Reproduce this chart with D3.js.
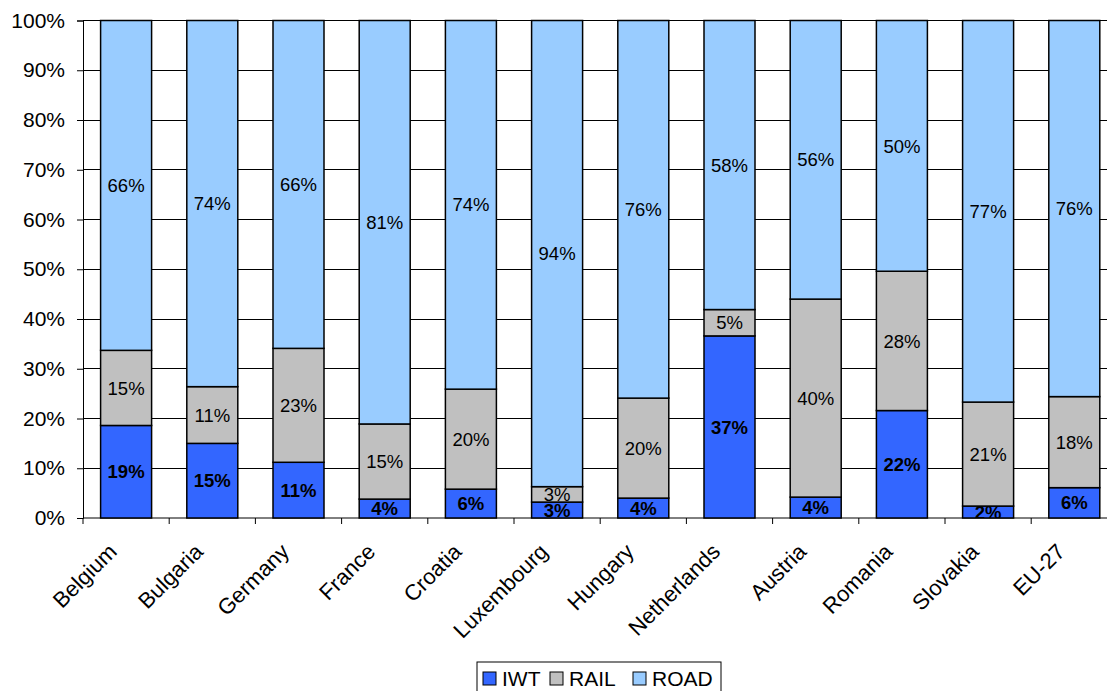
<!DOCTYPE html>
<html>
<head>
<meta charset="utf-8">
<script src="https://cdn.jsdelivr.net/npm/d3@7"></script>
<style>
  html, body { margin: 0; padding: 0; background: #fff; }
  svg { display: block; font-family: "Liberation Sans", Arial, sans-serif; }
</style>
</head>
<body>
<svg id="chart" width="1107" height="691"></svg>
<script>
// Modal split of freight transport (share of tonne-km)
const countries = ["Belgium", "Bulgaria", "Germany", "France", "Croatia", "Luxembourg",
                   "Hungary", "Netherlands", "Austria", "Romania", "Slovakia", "EU-27"];
const iwt  = [18.6, 15.0, 11.2, 3.8, 5.8, 3.2, 4.0, 36.6, 4.2, 21.6, 2.4, 6.1];
const rail = [15.1, 11.4, 22.9, 15.1, 20.1, 3.1, 20.1, 5.3, 39.8, 28.0, 20.9, 18.3];
const road = [66.3, 73.6, 65.9, 81.1, 74.1, 93.7, 75.9, 58.1, 56.0, 50.4, 76.7, 75.6];
const seriesNames = ["IWT", "RAIL", "ROAD"];
const seriesColors = ["#3366FF", "#C0C0C0", "#99CCFF"];
const yTicks = [0, 10, 20, 30, 40, 50, 60, 70, 80, 90, 100];

const rows = countries.map((c, i) => ({ country: c, IWT: iwt[i], RAIL: rail[i], ROAD: road[i] }));
const stacked = d3.stack().keys(seriesNames)(rows);

const svg = d3.select("#chart");
const plotLeft = 83, plotTop = 20.5, plotBottom = 518;
const step = 86.2;
const plotRight = plotLeft + step * countries.length;

const x = d3.scaleBand().domain(countries).range([plotLeft, plotRight]).padding(0);
const y = d3.scaleLinear().domain([0, 100]).range([plotBottom, plotTop]);
const barW = 51;

// gridlines
svg.append("g").selectAll("line").data(yTicks.slice(1)).join("line")
  .attr("x1", plotLeft).attr("x2", plotRight)
  .attr("y1", d => y(d)).attr("y2", d => y(d))
  .attr("stroke", "#000").attr("stroke-width", 1)
  .attr("shape-rendering", "crispEdges");

// y axis
const yAxis = svg.append("g").attr("transform", `translate(${plotLeft},0)`)
  .call(d3.axisLeft(y).tickValues(yTicks).tickFormat(d => d + "%").tickSize(6).tickPadding(12));
yAxis.select(".domain").attr("stroke", "#000");
yAxis.selectAll(".tick line").attr("stroke", "#000");
yAxis.selectAll("text").attr("font-size", 21).attr("fill", "#000")
  .attr("font-family", "Liberation Sans, Arial, sans-serif");

// x axis with boundary ticks
const xAxisG = svg.append("g");
xAxisG.append("line").attr("x1", plotLeft).attr("x2", plotRight)
  .attr("y1", plotBottom).attr("y2", plotBottom).attr("stroke", "#000");
xAxisG.selectAll("line.tk").data(countries.concat([null])).join("line").attr("class", "tk")
  .attr("x1", (d, i) => plotLeft + i * x.step()).attr("x2", (d, i) => plotLeft + i * x.step())
  .attr("y1", plotBottom).attr("y2", plotBottom + 6).attr("stroke", "#000");
xAxisG.selectAll("text").data(countries).join("text")
  .attr("transform", d => `translate(${x(d) + x.bandwidth() / 2 - 8},${plotBottom + 35}) rotate(-45)`)
  .attr("text-anchor", "end")
  .attr("font-size", 22)
  .attr("fill", "#000")
  .text(d => d);

// stacked bars
const layers = svg.append("g").selectAll("g").data(stacked).join("g")
  .attr("fill", (d, i) => seriesColors[i]);
layers.selectAll("rect").data(d => d).join("rect")
  .attr("x", d => x(d.data.country) + (x.bandwidth() - barW) / 2)
  .attr("width", barW)
  .attr("y", d => y(d[1]))
  .attr("height", d => y(d[0]) - y(d[1]))
  .attr("stroke", "#000").attr("stroke-width", 1.5);

// value labels, clipped to the plot area
svg.append("clipPath").attr("id", "plotClip").append("rect")
  .attr("x", plotLeft).attr("y", plotTop)
  .attr("width", plotRight - plotLeft).attr("height", plotBottom - plotTop);
const labels = svg.append("g").attr("clip-path", "url(#plotClip)");
stacked.forEach((layer, si) => {
  labels.selectAll(null).data(layer).join("text")
    .attr("x", d => x(d.data.country) + x.bandwidth() / 2)
    .attr("y", d => (y(d[0]) + y(d[1])) / 2)
    .attr("dy", "0.36em")
    .attr("text-anchor", "middle")
    .attr("font-size", 18.5)
    .attr("font-weight", si === 0 ? "bold" : "normal")
    .attr("fill", "#000")
    .text(d => Math.round(d[1] - d[0]) + "%");
});

// legend
const legend = svg.append("g");
legend.append("rect").attr("x", 477).attr("y", 662).attr("width", 244).attr("height", 40)
  .attr("fill", "#fff").attr("stroke", "#000").attr("stroke-width", 1);
const legendX = [483, 550, 633];
seriesNames.forEach((name, i) => {
  legend.append("rect").attr("x", legendX[i]).attr("y", 672).attr("width", 13).attr("height", 13)
    .attr("fill", seriesColors[i]).attr("stroke", "#000").attr("stroke-width", 1);
  legend.append("text").attr("x", legendX[i] + 19).attr("y", 686)
    .attr("font-size", 21).attr("fill", "#000").text(name);
});
</script>
</body>
</html>
